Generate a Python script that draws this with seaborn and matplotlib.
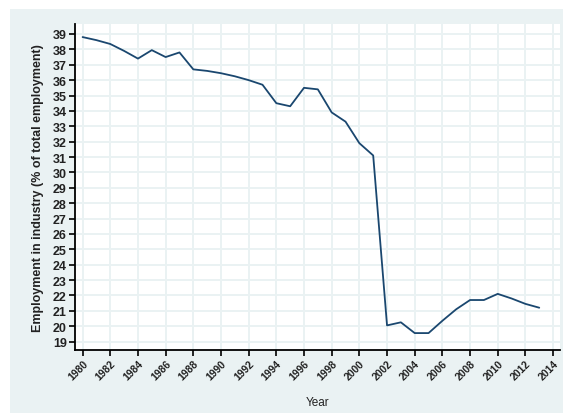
import pandas as pd
import seaborn as sns
import matplotlib.pyplot as plt
from matplotlib.patches import Rectangle

years = list(range(1980, 2014))
employment = [38.8, 38.6, 38.35, 37.9, 37.4, 37.95, 37.5, 37.8, 36.7, 36.6,
              36.45, 36.25, 36.0, 35.7, 34.5, 34.3, 35.5, 35.4, 33.9, 33.3,
              31.9, 31.1, 20.05, 20.25, 19.55, 19.55, 20.35, 21.1, 21.7, 21.7,
              22.1, 21.8, 21.45, 21.2]
xticks = list(range(1980, 2015, 2))
yticks = list(range(19, 40))

df = pd.DataFrame({"Year": years, "Employment": employment})

sns.set_theme(style="white")
plt.rcParams["font.family"] = ["Liberation Sans", "DejaVu Sans"]

bg = "#eaf2f3"
fig = plt.figure(figsize=(5.63, 4.14), dpi=100)
fig.patch.set_facecolor("white")
fig.patches.append(Rectangle((10 / 563, 0), 1, 1 - 10 / 414, transform=fig.transFigure,
                             facecolor=bg, edgecolor="none", zorder=-10))
ax = fig.add_axes([75 / 563, 1 - 351 / 414, 485 / 563, 326 / 414])
ax.set_facecolor("white")

sns.lineplot(data=df, x="Year", y="Employment", ax=ax, color="#1a476f", linewidth=1.3)

ax.set_xlim(1979.45, 2014.5)
ax.set_ylim(18.45, 39.65)
ax.set_xticks(xticks)
ax.set_yticks(yticks)
ax.set_xticklabels([str(t) for t in xticks], rotation=45, ha="right",
                   rotation_mode="anchor", fontsize=7.5, color="#222222",
                   fontweight="bold")
ax.set_yticklabels([str(t) for t in yticks], fontsize=9, color="#222222",
                   fontweight="bold")
ax.grid(True, color=bg, linewidth=1.4)
for s in ["top", "right"]:
    ax.spines[s].set_visible(False)
for s in ["left", "bottom"]:
    ax.spines[s].set_color("black")
    ax.spines[s].set_linewidth(1.3)
ax.tick_params(axis="both", which="major", direction="out", length=4, width=1.2,
               color="black", left=True, bottom=True, pad=2)
ax.set_xlabel("Year", fontsize=8.5, color="#222222", labelpad=10)
ax.set_ylabel("Employment in industry (% of total employment)", fontsize=9,
              color="#222222", fontweight="bold", labelpad=6)

fig.savefig("out.png", dpi=100, facecolor=fig.get_facecolor())
